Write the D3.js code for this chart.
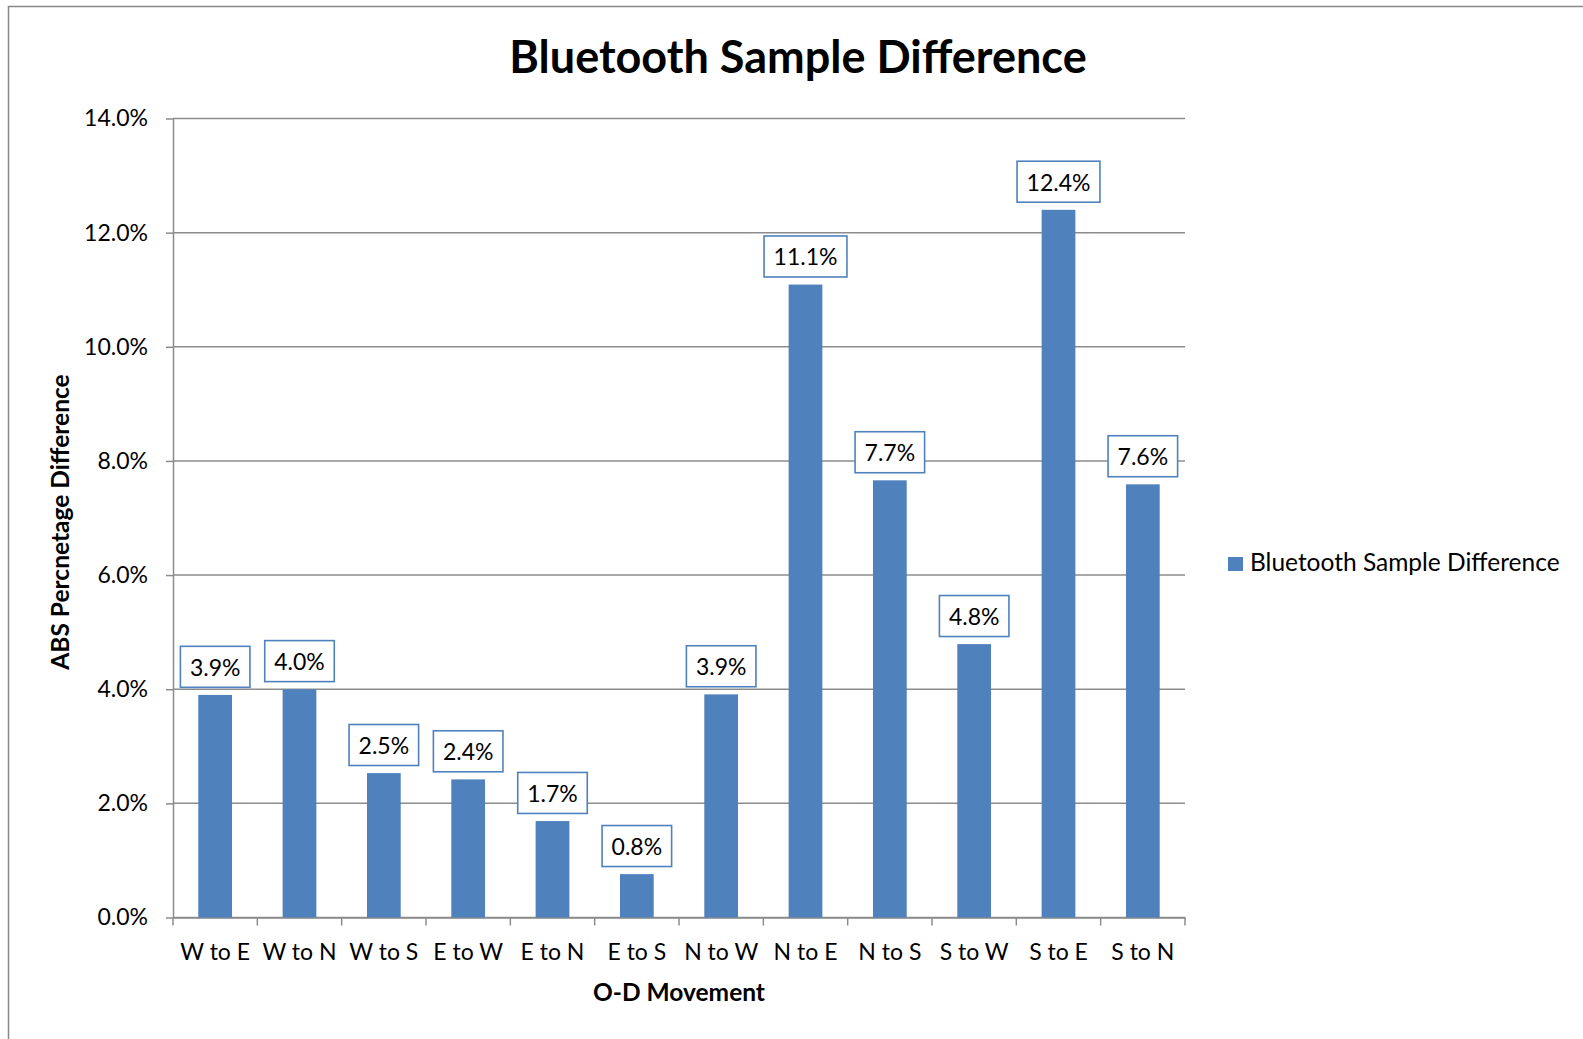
<!DOCTYPE html>
<html>
<head>
<meta charset="utf-8">
<script src="https://cdn.jsdelivr.net/npm/d3@7"></script>
<style>
  html, body { margin: 0; padding: 0; background: #fff; }
  svg { display: block; }
  text { font-family: Lato, "Open Sans", sans-serif; fill: #000; }
</style>
</head>
<body>
<svg id="chart" width="1583" height="1039"></svg>
<script>
const chartTitle = "Bluetooth Sample Difference";
const seriesName = "Bluetooth Sample Difference";
const xTitle = "O-D Movement";
const yTitle = "ABS Percnetage Difference";
const categories = ["W to E", "W to N", "W to S", "E to W", "E to N", "E to S", "N to W", "N to E", "N to S", "S to W", "S to E", "S to N"];
const values = [0.0390, 0.0400, 0.0253, 0.0242, 0.0169, 0.0076, 0.0391, 0.1109, 0.0766, 0.0479, 0.1240, 0.0759];
const yTicks = [0, 0.02, 0.04, 0.06, 0.08, 0.10, 0.12, 0.14];

const svg = d3.select("#chart");
const W = 1583, H = 1039;
const plot = { left: 173, right: 1185, top: 118.5, bottom: 917.5 };
const gridColor = "#8c8c8c";
const barColor = "#4f81bd";
const fmt = d3.format(".1%");

// outer chart border (extends beyond the visible area on right/bottom)
svg.append("rect")
  .attr("x", 8.5).attr("y", 6.5)
  .attr("width", W + 20).attr("height", H + 20)
  .attr("fill", "none").attr("stroke", "#888").attr("stroke-width", 1.5);

const x = d3.scaleBand()
  .domain(categories)
  .range([plot.left, plot.right])
  .paddingInner(0.6)
  .paddingOuter(0.3);

const y = d3.scaleLinear()
  .domain([0, 0.14])
  .range([plot.bottom, plot.top]);

// gridlines
svg.append("g")
  .selectAll("line")
  .data(yTicks)
  .join("line")
  .attr("x1", plot.left).attr("x2", plot.right)
  .attr("y1", d => y(d)).attr("y2", d => y(d))
  .attr("stroke", gridColor).attr("stroke-width", 1.5);

// y axis
const yAxis = svg.append("g")
  .attr("transform", `translate(${plot.left},0)`)
  .call(d3.axisLeft(y).tickValues(yTicks).tickFormat(fmt).tickSize(7).tickSizeOuter(0).tickPadding(18));
yAxis.select(".domain").attr("stroke", gridColor).attr("stroke-width", 1.5);
yAxis.selectAll(".tick line").attr("stroke", gridColor).attr("stroke-width", 1.5);
yAxis.selectAll(".tick text")
  .style("font-family", "Lato, 'Open Sans', sans-serif")
  .style("font-size", "23px").attr("fill", "#000");

// x axis (labels)
const xAxis = svg.append("g")
  .attr("transform", `translate(0,${plot.bottom})`)
  .call(d3.axisBottom(x).tickSize(0).tickPadding(26));
xAxis.select(".domain").attr("stroke", gridColor).attr("stroke-width", 1.5);
xAxis.selectAll(".tick text")
  .style("font-family", "Lato, 'Open Sans', sans-serif")
  .style("font-size", "23px").attr("fill", "#000");

// x boundary ticks between categories
const boundaries = d3.range(categories.length + 1);
svg.append("g")
  .selectAll("line")
  .data(boundaries)
  .join("line")
  .attr("x1", i => plot.left + i * x.step())
  .attr("x2", i => plot.left + i * x.step())
  .attr("y1", plot.bottom).attr("y2", plot.bottom + 8)
  .attr("stroke", gridColor).attr("stroke-width", 1.5);

// bars
svg.append("g")
  .selectAll("rect")
  .data(values)
  .join("rect")
  .attr("x", (d, i) => x(categories[i]))
  .attr("width", x.bandwidth())
  .attr("y", d => y(d))
  .attr("height", d => y(0) - y(d))
  .attr("fill", barColor);

// data labels with boxes
const lbl = svg.append("g")
  .selectAll("g")
  .data(values)
  .join("g")
  .attr("transform", (d, i) => `translate(${x(categories[i]) + x.bandwidth() / 2},${y(d) - 7.6})`);
lbl.append("rect").attr("class", "box");
lbl.append("text")
  .attr("text-anchor", "middle")
  .attr("y", -11.7)
  .style("font-size", "23px")
  .text(d => fmt(d));
lbl.each(function () {
  const g = d3.select(this);
  const tw = g.select("text").node().getComputedTextLength();
  g.select("rect.box")
    .attr("x", -tw / 2 - 9.5).attr("width", tw + 19)
    .attr("y", -41).attr("height", 41)
    .attr("fill", "#fff").attr("stroke", barColor).attr("stroke-width", 1.6);
});

// title
svg.append("text")
  .attr("x", 798).attr("y", 73)
  .attr("text-anchor", "middle")
  .style("font-size", "45px").style("font-weight", "bold")
  .text(chartTitle);

// axis titles
svg.append("text")
  .attr("x", (plot.left + plot.right) / 2).attr("y", 1001)
  .attr("text-anchor", "middle")
  .style("font-size", "24.5px").style("font-weight", "bold")
  .text(xTitle);

svg.append("text")
  .attr("transform", `translate(69,${(plot.top + plot.bottom) / 2 + 4}) rotate(-90)`)
  .attr("text-anchor", "middle")
  .style("font-size", "24.5px").style("font-weight", "bold")
  .text(yTitle);

// legend
const legend = svg.append("g").attr("transform", "translate(1228,557)");
legend.append("rect").attr("width", 15).attr("height", 14).attr("fill", barColor);
legend.append("text").attr("x", 22).attr("y", 14).style("font-size", "24.5px").text(seriesName);
</script>
</body>
</html>
